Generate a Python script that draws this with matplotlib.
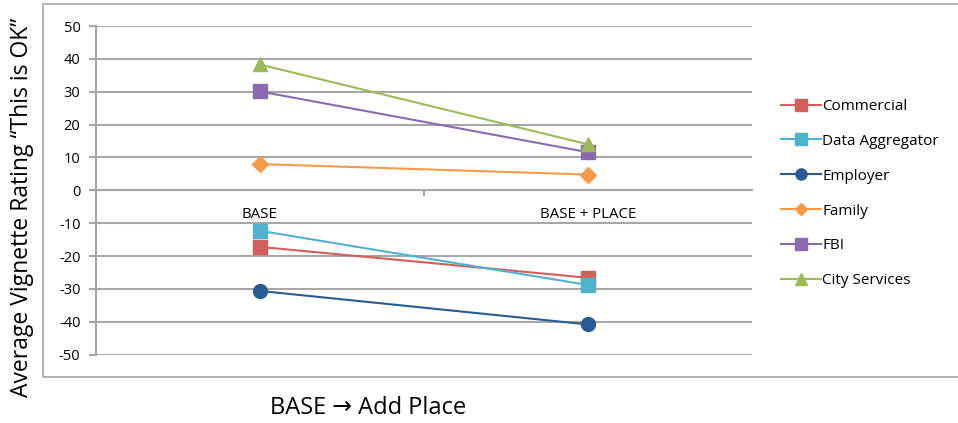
import matplotlib.pyplot as plt
from matplotlib.patches import Rectangle

# data
categories = ["BASE", "BASE + PLACE"]
commercial = [-17.2, -26.6]
data_aggregator = [-12.3, -28.8]
employer = [-30.6, -40.8]
family = [8.0, 4.8]
fbi = [30.1, 11.6]
city_services = [38.3, 14.0]

series = [
    ("Commercial", commercial, "#d0605b", "s"),
    ("Data Aggregator", data_aggregator, "#4fb3cc", "s"),
    ("Employer", employer, "#2a5b95", "o"),
    ("Family", family, "#f79a4a", "D"),
    ("FBI", fbi, "#8a6bb0", "s"),
    ("City Services", city_services, "#9bbb59", "^"),
]

plt.rcParams['font.family'] = ['Open Sans', 'DejaVu Sans']
plt.rcParams['axes.unicode_minus'] = False
grid_col = "#a6a6a6"

fig = plt.figure(figsize=(9.58, 4.23), dpi=100)
ax = fig.add_axes([0.0999, 0.1615, 0.785 - 0.0999, 0.9385 - 0.1615])

# outer chart area frame
fig.patches.append(Rectangle((43 / 958, 1 - 377 / 423), 1.0, (377 - 4) / 423,
                             transform=fig.transFigure, fill=False,
                             edgecolor=grid_col, linewidth=1.2))

x = list(range(len(categories)))
for name, vals, col, mk in series:
    ms = 8 if mk == "D" else 10
    ax.plot(x, vals, color=col, linewidth=1.5, marker=mk, markersize=ms,
            markeredgecolor=col, label=name)

ax.set_xlim(-0.5, 1.5)
ax.set_ylim(-50, 50)
ax.set_yticks(range(-50, 51, 10))
ax.yaxis.grid(True, color=grid_col, linewidth=1.5)
ax.set_axisbelow(True)

for s in ["top", "right"]:
    ax.spines[s].set_visible(False)
ax.spines["left"].set_color(grid_col)
ax.spines["left"].set_linewidth(1.5)

# category axis sits on the zero line
ax.spines["bottom"].set_position(("data", 0))
ax.spines["bottom"].set_color(grid_col)
ax.spines["bottom"].set_linewidth(1.5)
ax.set_xticks(x)
ax.set_xticklabels(categories, fontsize=10.8)
ax.set_xticks([0.5], minor=True)
ax.tick_params(axis="x", which="major", length=0, pad=12)
ax.tick_params(axis="x", which="minor", length=4, color=grid_col, width=1.5,
               direction="out")

ax.tick_params(axis="y", length=5, color=grid_col, width=1.5, labelsize=10.5,
               pad=6)

ax.legend(loc="center left", bbox_to_anchor=(1.023, 0.49), frameon=False,
          fontsize=11, labelspacing=1.3, handlelength=2.6, handletextpad=0.1,
          markerscale=0.8)

fig.text(22 / 958, 1 - 207 / 423, "Average Vignette Rating \u201cThis is OK\u201d",
         rotation=90, ha="center", va="center", fontsize=16.5)
fig.text(368 / 958, 1 - 408 / 423, "BASE \u2192 Add Place",
         ha="center", va="center", fontsize=17)

fig.savefig("out.png", dpi=100)
